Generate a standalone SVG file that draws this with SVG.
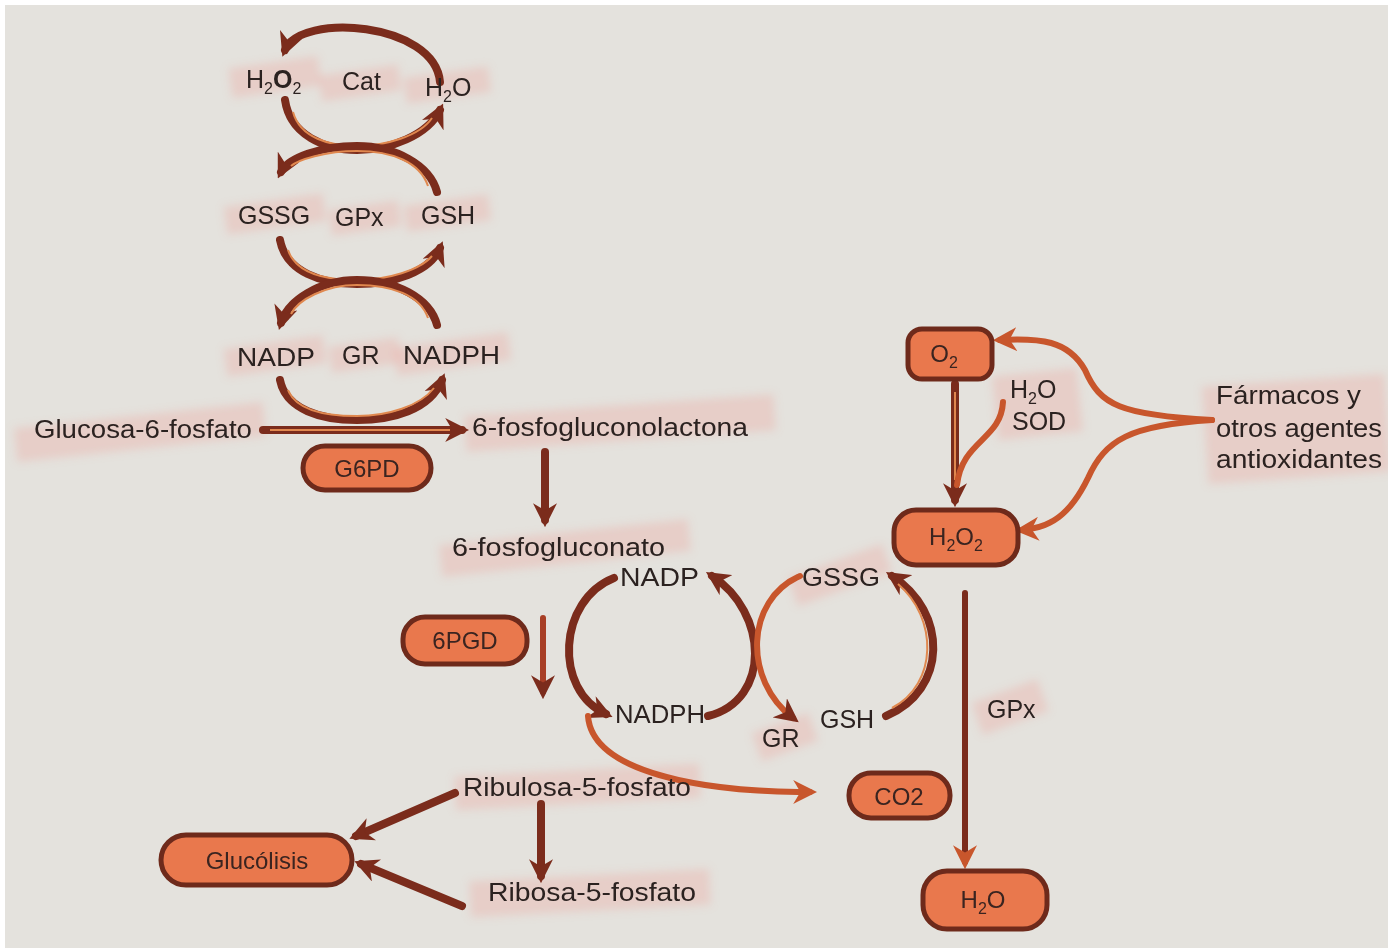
<svg xmlns="http://www.w3.org/2000/svg" width="1388" height="948" viewBox="0 0 1388 948">
<style>
.t{font-family:"Liberation Sans",Arial,sans-serif;font-size:25px;fill:#2b2220}
.tn{font-family:"Liberation Sans",Arial,sans-serif;font-size:24px;fill:#3a2420}
.sub{font-size:16px}
.d{fill:none;stroke:#7b2c1c;stroke-width:8;stroke-linecap:round}
.o{fill:none;stroke:#c8562c;stroke-width:6;stroke-linecap:round}
.oi{fill:none;stroke:#e0884f;stroke-width:2}
.node{fill:#e9784d;stroke:#6e2a1b;stroke-width:5}
.hl{fill:#ef9f97;opacity:0.3}
</style>
<defs>
<marker id="ad" viewBox="0 0 10 10" refX="7" refY="5" markerWidth="24" markerHeight="24" markerUnits="userSpaceOnUse" orient="auto"><path d="M0,0 L10,5 L0,10 L3,5 z" fill="#7b2c1c"/></marker>
<marker id="ao" viewBox="0 0 10 10" refX="7" refY="5" markerWidth="24" markerHeight="24" markerUnits="userSpaceOnUse" orient="auto"><path d="M0,0 L10,5 L0,10 L3,5 z" fill="#c8562c"/></marker>
<filter id="soft" x="-20%" y="-50%" width="140%" height="200%"><feGaussianBlur stdDeviation="4"/></filter>
</defs>
<rect width="1388" height="948" fill="#ffffff"/>
<rect x="5" y="5" width="1383" height="943" fill="#e4e2dd"/>

<g id="highlights" filter="url(#soft)">
<rect class="hl" x="230" y="62" width="90" height="30" transform="rotate(-8 275 77)"/>
<rect class="hl" x="320" y="70" width="80" height="26" transform="rotate(-8 360 83)"/>
<rect class="hl" x="405" y="72" width="85" height="26" transform="rotate(-8 447 85)"/>
<rect class="hl" x="225" y="200" width="100" height="28" transform="rotate(-8 275 214)"/>
<rect class="hl" x="330" y="205" width="70" height="26" transform="rotate(-8 365 218)"/>
<rect class="hl" x="405" y="200" width="85" height="26" transform="rotate(-8 447 213)"/>
<rect class="hl" x="225" y="342" width="100" height="28" transform="rotate(-8 275 356)"/>
<rect class="hl" x="330" y="342" width="70" height="26" transform="rotate(-8 365 355)"/>
<rect class="hl" x="395" y="340" width="115" height="28" transform="rotate(-8 452 354)"/>
<rect class="hl" x="15" y="415" width="250" height="34" transform="rotate(-6 140 432)"/>
<rect class="hl" x="465" y="405" width="310" height="36" transform="rotate(-4 620 423)"/>
<rect class="hl" x="440" y="532" width="250" height="32" transform="rotate(-6 565 548)"/>
<rect class="hl" x="790" y="560" width="100" height="30" transform="rotate(-20 840 575)"/>
<rect class="hl" x="755" y="722" width="60" height="30" transform="rotate(-20 785 737)"/>
<rect class="hl" x="975" y="690" width="70" height="34" transform="rotate(-20 1010 707)"/>
<rect class="hl" x="995" y="372" width="85" height="64" transform="rotate(-6 1037 404)"/>
<rect class="hl" x="1205" y="380" width="183" height="98" transform="rotate(-4 1296 429)"/>
<rect class="hl" x="455" y="770" width="245" height="34" transform="rotate(-3 577 787)"/>
<rect class="hl" x="470" y="875" width="240" height="36" transform="rotate(-3 590 893)"/>
</g>

<g id="connectors">
<path class="d" d="M440,82 C435,22 300,12 285,50" marker-end="url(#ad)"/>
<path class="d" d="M285,100 C290,135 325,150 357,150 C390,150 428,135 440,110" marker-end="url(#ad)"/>
<path class="oi" d="M293,112 C300,138 330,146 357,146 C385,146 420,136 432,118"/>
<path class="d" d="M437,192 C430,165 395,146 357,146 C320,146 288,158 281,172" marker-end="url(#ad)"/>
<path class="oi" d="M428,186 C420,162 392,151 357,151 C325,151 298,160 291,166"/>
<path class="d" d="M280,240 C286,272 322,284 357,284 C392,284 430,272 440,248" marker-end="url(#ad)"/>
<path class="oi" d="M288,250 C296,274 326,280 357,280 C388,280 420,270 432,256"/>
<path class="d" d="M437,325 C430,298 395,280 357,280 C320,280 288,300 281,323" marker-end="url(#ad)"/>
<path class="oi" d="M428,318 C420,295 392,285 357,285 C325,285 298,300 291,314"/>
<path class="d" d="M280,380 C286,410 322,420 357,420 C392,420 430,410 442,380" marker-end="url(#ad)"/>
<path class="oi" d="M288,390 C296,410 326,416 357,416 C388,416 420,406 434,388"/>

<path class="d" d="M263,430 L462,430" marker-end="url(#ad)"/>
<path class="oi" d="M270,430 L450,430"/>
<path class="d" d="M545,452 L545,520" marker-end="url(#ad)"/>
<path fill="none" stroke="#a83f26" stroke-width="6" stroke-linecap="round" d="M543,618 L543,692" marker-end="url(#ad)"/>

<path class="d" d="M614,578 C558,600 553,690 606,714" marker-end="url(#ad)"/>
<path class="o" d="M588,716 C592,772 700,792 810,792" marker-end="url(#ao)"/>
<path class="d" d="M708,716 C772,700 768,612 712,576" marker-end="url(#ad)"/>
<path class="o" d="M800,576 C745,600 743,680 793,718" marker-end="url(#ad)"/>
<path class="d" d="M886,716 C948,690 948,612 892,576" marker-end="url(#ad)"/>
<path class="oi" d="M892,708 C938,684 938,618 898,584"/>

<path class="d" d="M955,384 L955,500" marker-end="url(#ad)"/>
<path class="oi" d="M955,392 L955,480"/>
<path class="o" d="M1003,402 C1001,440 962,440 957,485"/>
<path class="o" d="M1212,420 C1120,415 1100,405 1085,370 C1068,340 1040,338 1000,340" marker-end="url(#ao)"/>
<path class="o" d="M1212,420 C1130,425 1105,440 1088,478 C1070,515 1050,528 1022,530" marker-end="url(#ao)"/>

<path fill="none" stroke="#7b2c1c" stroke-width="6" stroke-linecap="round" d="M965,593 L965,862" marker-end="url(#ao)"/>

<path class="d" d="M455,793 L356,836" marker-end="url(#ad)"/>
<path class="d" d="M462,906 L361,864" marker-end="url(#ad)"/>
<path class="d" d="M541,804 L541,876" marker-end="url(#ad)"/>
</g>

<g id="node-G6PD"><rect class="node" x="303" y="446" width="128" height="44" rx="22"/><text class="tn" x="367" y="477" text-anchor="middle">G6PD</text></g>
<g id="node-6PGD"><rect class="node" x="403" y="617" width="124" height="47" rx="22"/><text class="tn" x="465" y="649" text-anchor="middle">6PGD</text></g>
<g id="node-O2"><rect class="node" x="908" y="329" width="84" height="50" rx="14"/><text class="tn" x="944" y="362" text-anchor="middle">O<tspan class="sub" dy="6">2</tspan></text></g>
<g id="node-H2O2"><rect class="node" x="894" y="510" width="124" height="55" rx="22"/><text class="tn" x="956" y="545" text-anchor="middle">H<tspan class="sub" dy="6">2</tspan><tspan dy="-6">O</tspan><tspan class="sub" dy="6">2</tspan></text></g>
<g id="node-CO2"><rect class="node" x="849" y="773" width="101" height="45" rx="22"/><text class="tn" x="899" y="805" text-anchor="middle">CO2</text></g>
<g id="node-H2O"><rect class="node" x="923" y="871" width="124" height="58" rx="24"/><text class="tn" x="983" y="908" text-anchor="middle">H<tspan class="sub" dy="6">2</tspan><tspan dy="-6">O</tspan></text></g>
<g id="node-Glucolisis"><rect class="node" x="161" y="835" width="191" height="50" rx="25"/><text class="tn" x="257" y="869" text-anchor="middle">Glucólisis</text></g>

<g id="label-H2O2-top"><text class="t" x="246" y="88">H<tspan class="sub" dy="6">2</tspan><tspan dy="-6" font-weight="bold">O</tspan><tspan class="sub" dy="6">2</tspan></text></g>
<g id="label-Cat"><text class="t" x="342" y="90">Cat</text></g>
<g id="label-H2O-top"><text class="t" x="425" y="96">H<tspan class="sub" dy="6">2</tspan><tspan dy="-6">O</tspan></text></g>
<g id="label-GSSG-top"><text class="t" x="238" y="224">GSSG</text></g>
<g id="label-GPx-top"><text class="t" x="335" y="226">GPx</text></g>
<g id="label-GSH-top"><text class="t" x="421" y="224">GSH</text></g>
<g id="label-NADP-top"><text class="t" x="237" y="366" textLength="78" lengthAdjust="spacingAndGlyphs">NADP</text></g>
<g id="label-GR-top"><text class="t" x="342" y="364">GR</text></g>
<g id="label-NADPH-top"><text class="t" x="403" y="364" textLength="97" lengthAdjust="spacingAndGlyphs">NADPH</text></g>
<g id="label-G6P"><text class="t" x="34" y="438" textLength="218" lengthAdjust="spacingAndGlyphs">Glucosa-6-fosfato</text></g>
<g id="label-6PGL"><text class="t" x="472" y="436" textLength="276" lengthAdjust="spacingAndGlyphs">6-fosfogluconolactona</text></g>
<g id="label-6PG"><text class="t" x="452" y="556" textLength="213" lengthAdjust="spacingAndGlyphs">6-fosfogluconato</text></g>
<g id="label-NADP"><text class="t" x="620" y="586" textLength="79" lengthAdjust="spacingAndGlyphs">NADP</text></g>
<g id="label-NADPH"><text class="t" x="615" y="723" textLength="90" lengthAdjust="spacingAndGlyphs">NADPH</text></g>
<g id="label-GSSG"><text class="t" x="802" y="586" textLength="78" lengthAdjust="spacingAndGlyphs">GSSG</text></g>
<g id="label-GR"><text class="t" x="762" y="747">GR</text></g>
<g id="label-GSH"><text class="t" x="820" y="728">GSH</text></g>
<g id="label-GPx"><text class="t" x="987" y="718">GPx</text></g>
<g id="label-H2O-SOD"><text class="t" x="1010" y="398">H<tspan class="sub" dy="6">2</tspan><tspan dy="-6">O</tspan></text><text class="t" x="1012" y="430">SOD</text></g>
<g id="label-farmacos"><text class="t" x="1216" y="404" textLength="145" lengthAdjust="spacingAndGlyphs">Fármacos y</text><text class="t" x="1216" y="437" textLength="166" lengthAdjust="spacingAndGlyphs">otros agentes</text><text class="t" x="1216" y="468" textLength="166" lengthAdjust="spacingAndGlyphs">antioxidantes</text></g>
<g id="label-Ru5P"><text class="t" x="463" y="796" textLength="228" lengthAdjust="spacingAndGlyphs">Ribulosa-5-fosfato</text></g>
<g id="label-R5P"><text class="t" x="488" y="901" textLength="208" lengthAdjust="spacingAndGlyphs">Ribosa-5-fosfato</text></g>
</svg>
